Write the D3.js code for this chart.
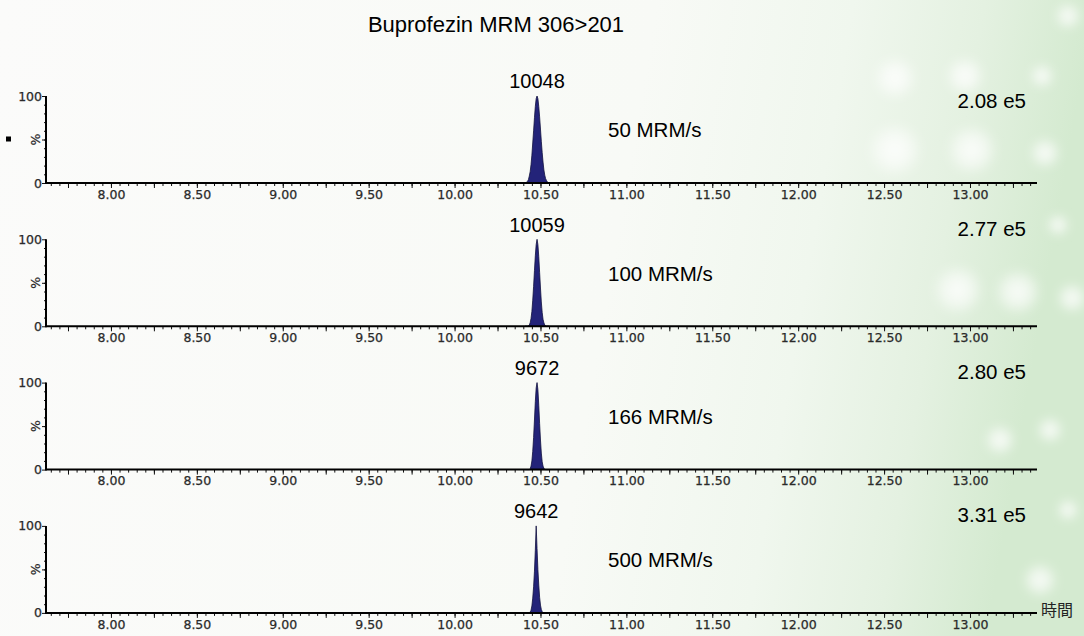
<!DOCTYPE html>
<html>
<head>
<meta charset="utf-8">
<script src="https://cdn.jsdelivr.net/npm/d3@7/dist/d3.min.js"></script>
<style>
  html, body { margin: 0; padding: 0; background: #fff; }
  svg { display: block; }
</style>
</head>
<body>
<svg id="chart" width="1084" height="636"></svg>
<script>
// Buprofezin MRM 306>201 chromatograms acquired at four dwell rates
const title = "Buprofezin MRM 306>201";
const rates = ["50 MRM/s", "100 MRM/s", "166 MRM/s", "500 MRM/s"];
const apexScans = [10048, 10059, 9672, 9642];
const maxIntensity = [2.08e5, 2.77e5, 2.80e5, 3.31e5];
const xTickLabels = ["8.00", "8.50", "9.00", "9.50", "10.00", "10.50", "11.00", "11.50", "12.00", "12.50", "13.00"];
const yTickLabels = ["0", "100"];
const timeRange = [7.622, 13.39];

// retention time (min) of the samples across the peak
const peakTimes = [
  10.410, 10.415, 10.420, 10.425, 10.430, 10.435, 10.440, 10.445, 10.450, 10.455,
  10.460, 10.465, 10.470, 10.475, 10.480, 10.485, 10.490, 10.495, 10.500, 10.505,
  10.510, 10.515, 10.520, 10.525, 10.530, 10.535, 10.540, 10.545, 10.550
];
// relative intensity (%) for each trace
const trace50 = [
  0, 0.5, 1, 2, 4, 8, 13, 21, 32, 46,
  60, 75, 88, 97, 100, 97, 88, 76, 62, 48,
  35, 24, 15, 9, 5, 3, 1.5, 0.5, 0
];
const trace100 = [
  0, 0, 0, 0, 0.5, 1.5, 4, 9, 17, 30,
  46, 64, 81, 94, 100, 94, 80, 62, 44, 28,
  16, 8, 4, 1.5, 0.5, 0, 0, 0, 0
];
const trace166 = [
  0, 0, 0, 0, 0, 0, 1, 4, 10, 21,
  37, 57, 78, 94, 100, 92, 74, 53, 34, 19,
  9, 4, 1.5, 0.5, 0, 0, 0, 0, 0
];
const trace500 = [
  0, 0, 0, 0, 0, 0, 1, 3, 8, 17,
  30, 48, 72, 100, 74, 50, 32, 18, 9, 4,
  1.5, 0.5, 0, 0, 0, 0, 0, 0, 0
];
const traces = [trace50, trace100, trace166, trace500];

const svg = d3.select("#chart");
const W = 1084, H = 636;

// ---- backdrop: near-white fading into pale mint with soft light spots ----
const defs = svg.append("defs");
const bg = defs.append("linearGradient").attr("id", "bgGrad")
  .attr("x1", "0").attr("y1", "0").attr("x2", "1").attr("y2", "0.1");
[[0, "#fbfbfa"], [0.6, "#f8faf6"], [0.78, "#f0f7ee"], [0.9, "#e4f1e1"], [1, "#d4ead0"]]
  .forEach(([o, c]) => bg.append("stop").attr("offset", o).attr("stop-color", c));
const glow = defs.append("radialGradient").attr("id", "glowGrad");
glow.append("stop").attr("offset", 0).attr("stop-color", "#ffffff").attr("stop-opacity", 0.85);
glow.append("stop").attr("offset", 0.55).attr("stop-color", "#ffffff").attr("stop-opacity", 0.55);
glow.append("stop").attr("offset", 1).attr("stop-color", "#ffffff").attr("stop-opacity", 0);
defs.append("filter").attr("id", "soft").attr("x", "-50%").attr("y", "-50%").attr("width", "200%").attr("height", "200%")
  .append("feGaussianBlur").attr("stdDeviation", 5);

svg.append("rect").attr("width", W).attr("height", H).attr("fill", "url(#bgGrad)");
const spots = [
  [895, 78, 22], [965, 76, 20], [1042, 76, 13], [1068, 16, 14],
  [895, 150, 28], [972, 150, 26], [1045, 153, 16],
  [958, 290, 26], [1018, 292, 24], [1072, 298, 16],
  [1058, 225, 12], [1050, 430, 14], [1000, 440, 16], [1068, 510, 12],
  [1040, 580, 18]
];
svg.append("g").selectAll("circle").data(spots).join("circle")
  .attr("cx", d => d[0]).attr("cy", d => d[1]).attr("r", d => d[2])
  .attr("fill", "url(#glowGrad)").attr("filter", "url(#soft)");

// ---- title ----
svg.append("text").attr("x", 496).attr("y", 32).attr("text-anchor", "middle")
  .attr("font-family", "'Liberation Sans', Arial, sans-serif").attr("font-size", 22)
  .attr("fill", "#000").text(title);

// ---- panels ----
const x = d3.scaleLinear().domain(timeRange).range([46, 1037]);
const panelTop = i => 96 + i * 143.3;
const panelH = 87;
const labelFont = "'Liberation Sans', Arial, sans-serif";
const tickFont = "'DejaVu Sans', Verdana, sans-serif";

const majorTimes = d3.range(0, 23).map(k => 7.75 + k * 0.25).filter(t => t < timeRange[1]);
const minorTimes = d3.range(0, 120).map(k => 7.65 + k * 0.05).filter(t => t < timeRange[1]);

traces.forEach((trace, i) => {
  const top = panelTop(i);
  const y = d3.scaleLinear().domain([0, 100]).range([top + panelH, top]);
  const g = svg.append("g");
  const pts = peakTimes.map((t, k) => [t, trace[k]]);

  // peak trace
  const area = d3.area().x(d => x(d[0])).y0(y(0)).y1(d => y(d[1]));
  g.append("path").datum(pts).attr("d", area)
    .attr("fill", "#232379").attr("stroke", "#11113f").attr("stroke-width", 0.8);

  // x axis: minor ticks every 0.05 min, major ticks every 0.25 min
  const xAxisMinor = d3.axisBottom(x).tickValues(minorTimes).tickSize(3).tickFormat("");
  const xAxisMajor = d3.axisBottom(x).tickValues(majorTimes).tickSize(5)
    .tickFormat(t => {
      const lbl = t.toFixed(2);
      return xTickLabels.includes(lbl) ? lbl : "";
    });
  const ax1 = g.append("g").attr("transform", `translate(0,${y(0)})`).call(xAxisMinor);
  const ax2 = g.append("g").attr("transform", `translate(0,${y(0)})`).call(xAxisMajor);
  [ax1, ax2].forEach(a => {
    a.select(".domain").remove();
    a.selectAll(".tick line").attr("stroke", "#111").attr("stroke-width", 1);
  });
  ax2.selectAll(".tick text").attr("font-family", tickFont).attr("font-size", 12.5)
    .attr("fill", "#2a2a2a").attr("stroke", "#2a2a2a").attr("stroke-width", 0.25)
    .attr("dy", "0.71em").attr("y", 7);
  g.append("line").attr("x1", x.range()[0]).attr("x2", x.range()[1])
    .attr("y1", y(0)).attr("y2", y(0)).attr("stroke", "#000").attr("stroke-width", 2);

  // y axis: 0..100 % with minor ticks every 10
  const yMinor = d3.axisLeft(y).tickValues(d3.range(10, 100, 10)).tickSize(2).tickFormat("");
  const yMajor = d3.axisLeft(y).tickValues([0, 50, 100]).tickSize(4)
    .tickFormat(v => yTickLabels.includes(String(v)) ? String(v) : "");
  const ay1 = g.append("g").attr("transform", `translate(${x.range()[0]},0)`).call(yMinor);
  const ay2 = g.append("g").attr("transform", `translate(${x.range()[0]},0)`).call(yMajor);
  [ay1, ay2].forEach(a => {
    a.select(".domain").remove();
    a.selectAll(".tick line").attr("stroke", "#111").attr("stroke-width", 1);
  });
  ay2.selectAll(".tick text").attr("font-family", tickFont).attr("font-size", 12.5)
    .attr("fill", "#2a2a2a").attr("stroke", "#2a2a2a").attr("stroke-width", 0.25).attr("x", -4);
  g.append("line").attr("x1", x.range()[0]).attr("x2", x.range()[0])
    .attr("y1", y(100)).attr("y2", y(0) + 1).attr("stroke", "#000").attr("stroke-width", 2);
  g.append("text").attr("transform", `translate(${x.range()[0] - 6},${y(50)}) rotate(-90)`)
    .attr("text-anchor", "middle").attr("font-family", tickFont).attr("font-size", 12.5)
    .attr("fill", "#2a2a2a").attr("stroke", "#2a2a2a").attr("stroke-width", 0.25).text("%");

  // apex scan label
  let apex = pts[0];
  pts.forEach(p => { if (p[1] > apex[1]) apex = p; });
  g.append("text").attr("x", x(apex[0])).attr("y", y(apex[1]) - 13)
    .attr("text-anchor", "middle").attr("dominant-baseline", "middle")
    .attr("font-family", labelFont).attr("font-size", 20).attr("fill", "#000")
    .text(apexScans[i]);

  // full-scale intensity
  const parts = maxIntensity[i].toExponential(2).split("e+");
  g.append("text").attr("x", 1026).attr("y", i === 0 ? top + 7 : top - 9)
    .attr("text-anchor", "end").attr("dominant-baseline", "middle")
    .attr("font-family", labelFont).attr("font-size", 20.5).attr("fill", "#000")
    .text(`${parts[0]} e${parts[1]}`);

  // acquisition rate
  g.append("text").attr("x", 608).attr("y", top + 36)
    .attr("dominant-baseline", "middle")
    .attr("font-family", labelFont).attr("font-size", 20.5).attr("fill", "#000")
    .text(rates[i]);

  if (i === 0) {
    g.append("rect").attr("x", 6).attr("y", y(50) - 3).attr("width", 5).attr("height", 5).attr("fill", "#000");
  }
  if (i === traces.length - 1) {
    g.append("text").attr("x", 1041).attr("y", y(0) - 1)
      .attr("dominant-baseline", "middle")
      .attr("font-family", "'Noto Sans CJK JP', sans-serif").attr("font-size", 16)
      .attr("fill", "#222").text("時間");
  }
});
</script>
</body>
</html>
